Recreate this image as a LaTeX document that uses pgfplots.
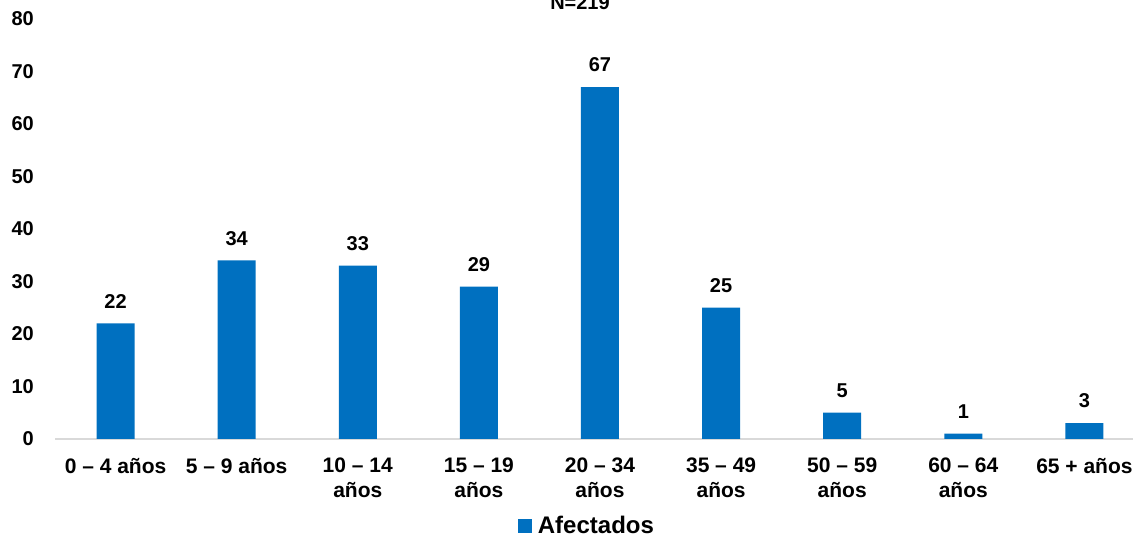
\documentclass[border=0pt]{standalone}
\usepackage{fontspec}
\setmainfont{Liberation Sans}
\usepackage{pgfplots}
\pgfplotsset{compat=1.18}
\definecolor{barblue}{HTML}{0070C0}
\definecolor{axisgray}{HTML}{D9D9D9}

\begin{document}
\begin{tikzpicture}
\begin{axis}[
  at={(55pt,96pt)}, anchor=south west,
  scale only axis, width=1078pt, height=420pt,
  xmin=-0.5, xmax=8.4, ymin=0, ymax=80,
  ytick distance=10,
  xtick=data,
  xticklabels={{0 – 4 años},{5 – 9 años},{10 – 14\\años},{15 – 19\\años},{20 – 34\\años},{35 – 49\\años},{50 – 59\\años},{60 – 64\\años},{65 + años}},
  major tick length=0pt,
  axis x line*=bottom, axis y line*=left,
  x axis line style={draw=axisgray, line width=1.2pt, -},
  y axis line style={draw=none},
  /pgf/number format/assume math mode=true,
  ticklabel style={font=\fontsize{20}{25}\selectfont\bfseries, inner sep=0pt},
  yticklabel style={anchor=east, xshift=-21pt},
  xticklabel style={align=center, anchor=north, yshift=-19pt,
    font=\fontsize{21}{25}\selectfont\bfseries},
  ybar, bar width=38pt,
  nodes near coords,
  every node near coord/.append style={font=\fontsize{20}{24}\selectfont\bfseries, anchor=south, inner sep=0pt, yshift=15pt, /pgf/number format/assume math mode=true},
  legend style={at={(axis description cs:0.4935,-0.207)}, anchor=center, draw=none, fill=none,
    font=\fontsize{24}{26}\selectfont\bfseries, inner sep=0pt},
  % square swatch, with a little room kept on its right before the text
  legend image code/.code={\fill[barblue] (0pt,-7pt) rectangle (14pt,7pt); \path (18pt,0pt);},
  clip=false,
]
\addplot[fill=barblue, draw=none] coordinates {
  (0,22) (1,34) (2,33) (3,29) (4,67) (5,25) (6,5) (7,1) (8,3)
};
\addlegendentry{Afectados}
\end{axis}
\node[anchor=base, font=\fontsize{20}{24}\selectfont\bfseries, inner sep=0pt] at (580pt,525pt) {N=219};
\pgfresetboundingbox
\useasboundingbox (0,0) rectangle (1133pt,535pt);
\end{tikzpicture}
\end{document}
